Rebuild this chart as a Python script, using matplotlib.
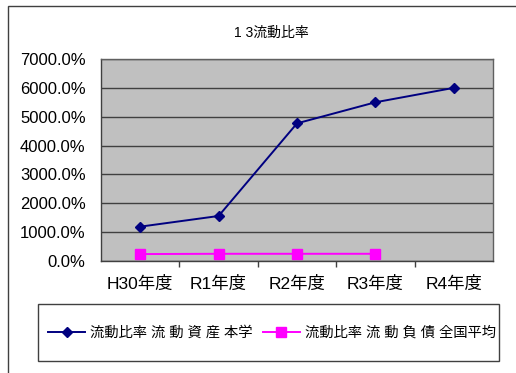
import matplotlib
matplotlib.use('Agg')
import matplotlib.pyplot as plt
from matplotlib.patches import Rectangle
from matplotlib.ticker import FuncFormatter, FixedLocator

plt.rcParams['font.family'] = ['Liberation Sans', 'Noto Sans CJK JP', 'DejaVu Sans']

years = ['H30年度', 'R1年度', 'R2年度', 'R3年度', 'R4年度']
own_ratio = [1190, 1560, 4770, 5500, 6000]
national_avg = [240, 250, 250, 250]
label_own = '流動比率 流 動 資 産 本学'
label_avg = '流動比率 流 動 負 債 全国平均'

W, H = 516, 373
fig = plt.figure(figsize=(W / 100, H / 100), dpi=100)
fig.patch.set_facecolor('white')

# outer chart frame
fig.patches.append(Rectangle((8 / W, -0.1), 1.2, 1 - 6 / H + 0.1,
                             transform=fig.transFigure, fill=False,
                             edgecolor='#404040', linewidth=1.0))

ax = fig.add_axes([101 / W, 1 - 261 / H, 392 / W, 202 / H])
ax.set_facecolor('#C0C0C0')

x = list(range(len(years)))
ax.plot(x, own_ratio, color='#000080', marker='D', markersize=5.5,
        linewidth=1.4, label=label_own)
ax.plot(x[:len(national_avg)], national_avg, color='#FF00FF', marker='s',
        markersize=7, linewidth=1.4, label=label_avg)

ax.set_xlim(-0.5, len(years) - 0.5)
ax.set_ylim(0, 7000)
ax.set_yticks(range(0, 7001, 1000))
ax.yaxis.set_major_formatter(FuncFormatter(lambda v, p: f'{v:.1f}%'))
ax.set_xticks(x)
ax.set_xticklabels(years)
ax.xaxis.set_minor_locator(FixedLocator([i + 0.5 for i in range(len(years) - 1)]))

ax.grid(axis='y', color='#404040', linewidth=1.0)
ax.set_axisbelow(True)
ax.tick_params(axis='y', length=0, pad=11, labelsize=12)
ax.tick_params(axis='x', which='major', length=0, pad=11, labelsize=12.5)
ax.tick_params(axis='x', which='minor', length=4, width=1, color='#404040')
for s in ax.spines.values():
    s.set_color('#606060')
    s.set_linewidth(1.0)
ax.spines['left'].set_color('#404040')
ax.spines['bottom'].set_color('#404040')

fig.text(271 / W, 1 - 33 / H, '1 3流動比率', ha='center', va='center', fontsize=10)

# legend entries, boxed separately
leg = fig.legend(loc='center left', bbox_to_anchor=(48 / W, 1 - 333 / H),
                 ncol=2, fontsize=10.3, frameon=False,
                 handlelength=2.6, columnspacing=0.7, handletextpad=0.35,
                 borderpad=0, borderaxespad=0)
fig.patches.append(Rectangle((38 / W, 1 - 361 / H), 461 / W, 57 / H,
                             transform=fig.transFigure, fill=False,
                             edgecolor='#404040', linewidth=1.0))

fig.savefig('out.png', dpi=100)
